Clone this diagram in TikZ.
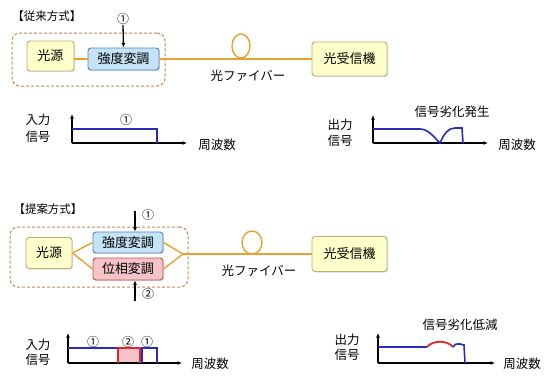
\documentclass[tikz,border=0pt]{standalone}
\usepackage{fontspec}
\newfontfamily\jp{Noto Sans CJK JP}
\usetikzlibrary{arrows.meta,shadows}
\definecolor{fib}{HTML}{E8A030}
\definecolor{dashcol}{HTML}{C08850}
\definecolor{srcfill}{HTML}{FFFFCC}
\definecolor{srcdraw}{HTML}{B8B070}
\definecolor{bluefill}{HTML}{C5E3F6}
\definecolor{bluedraw}{HTML}{4F81BD}
\definecolor{pinkfill}{HTML}{F5C3C8}
\definecolor{pinkdraw}{HTML}{C0504D}
\definecolor{sigblue}{HTML}{2B2BB8}
\definecolor{sigred}{HTML}{E0262B}
\tikzset{
  boxtext/.style={font=\jp\fontsize{13}{15}\selectfont, inner sep=0pt, rounded corners=3pt, line width=0.9pt,
    drop shadow={shadow xshift=1pt, shadow yshift=-1.2pt, opacity=0.25}},
  srcbox/.style={boxtext, fill=srcfill, draw=srcdraw},
  modbox/.style={boxtext, fill=bluefill, draw=bluedraw},
  phabox/.style={boxtext, fill=pinkfill, draw=pinkdraw},
  groupbox/.style={draw=dashcol, dash pattern=on 3pt off 2pt, rounded corners=8pt, line width=1pt, inner sep=0pt},
  lab/.style={font=\jp\fontsize{12.5}{14}\selectfont, inner sep=0pt},
  ttl/.style={font=\jp\fontsize{11.5}{13}\selectfont, inner sep=0pt},
  num/.style={font=\jp\fontsize{12}{13}\selectfont, inner sep=0pt},
  fibline/.style={draw=fib, line width=1.4pt},
  arr/.style={-{Latex[length=4.5pt,width=4pt]}, line width=1.3pt},
  axis/.style={-{Latex[length=4.5pt,width=4pt]}, line width=1.3pt},
  sigb/.style={draw=sigblue, line width=1.6pt},
  sigr/.style={draw=sigred, line width=1.8pt}
}
\begin{document}
\begin{tikzpicture}[x=1pt,y=-1pt]
\useasboundingbox (0,0) rectangle (550,378);
\fill[white] (0,0) rectangle (550,378);

% ===== upper: conventional =====
\node[ttl] (t1) at (47,16) {【従来方式】};
\node[groupbox, minimum width=153pt, minimum height=53pt] (g1) at (88.5,59.5) {};
\node[srcbox, minimum width=47pt, minimum height=30pt] (src1) at (50.5,56) {光源};
\node[modbox, minimum width=71pt, minimum height=22pt] (mod1) at (123.5,59) {強度変調};
\node[srcbox, minimum width=75pt, minimum height=34pt] (rx1) at (349.5,59) {光受信機};
\node[num] (n1) at (123,19) {①};
\draw[arr] (n1.south) -- (mod1.north);
\draw[fibline] (src1.east |- mod1.west) -- (mod1.west);
\draw[fibline] (mod1.east) -- (rx1.west);
\draw[fibline] (241,46) ellipse [x radius=9, y radius=12];
\node[lab] (f1) at (248,76) {光ファイバー};

% chart 1
\coordinate (o1) at (72,143);
\draw[axis] (o1) -- (72,114);
\draw[axis] (o1) -- (187,143);
\draw[sigb] (72,129) -- (157,129) -- (157,143);
\node[num] (c1n) at (126,120) {①};
\node[lab] (c1a) at (38,120) {入力};
\node[lab] (c1b) at (38,137) {信号};
\node[lab] (c1x) at (217,145) {周波数};

% chart 2
\coordinate (o2) at (373,143);
\draw[axis] (o2) -- (373,115);
\draw[axis] (o2) -- (488,143);
\draw[sigb] (373,129) -- (420,129) .. controls (428,129) and (434,137) .. (440,143)
  .. controls (444,134) and (448,128) .. (455,128) -- (462,128) -- (463,143);
\node[lab] (c2t) at (452,112) {信号劣化発生};
\node[lab] (c2a) at (340,125) {出力};
\node[lab] (c2b) at (340,141) {信号};
\node[lab] (c2x) at (517,145) {周波数};

% ===== lower: proposed =====
\node[ttl] (t2) at (48,209) {【提案方式】};
\node[groupbox, minimum width=178pt, minimum height=60pt] (g2) at (99,257) {};
\node[srcbox, minimum width=46pt, minimum height=31pt] (src2) at (49,253) {光源};
\node[modbox, minimum width=70pt, minimum height=21pt] (mod2) at (128,242.5) {強度変調};
\node[phabox, minimum width=70pt, minimum height=22pt] (pha2) at (128,269) {位相変調};
\node[srcbox, minimum width=75pt, minimum height=35pt] (rx2) at (349.5,254) {光受信機};
\coordinate (j2) at (183,254);
\draw[fibline] (src2.east) -- (mod2.west);
\draw[fibline] (src2.east) -- (pha2.west);
\draw[fibline] (mod2.east) -- (j2);
\draw[fibline] (pha2.east) -- (j2);
\draw[fibline] (j2) -- (rx2.west);
\draw[fibline] (252,242.5) ellipse [x radius=10, y radius=11.5];
\node[lab] (f2) at (259,271) {光ファイバー};
\node[num] (n2a) at (148,215) {①};
\coordinate (a2) at (135,211);
\draw[arr] (a2) -- (a2 |- mod2.north);
\node[num] (n2b) at (148,294) {②};
\coordinate (b2) at (135,301);
\draw[arr] (b2) -- (b2 |- pha2.south);

% chart 3
\coordinate (o3) at (68,363);
\fill[pinkfill] (118,348) rectangle (140,363);
\draw[axis] (o3) -- (68,333);
\draw[axis] (o3) -- (182,363);
\draw[sigb] (68,348) -- (118,348);
\draw[sigb] (140,348) -- (157,348) -- (157,363);
\draw[sigb] (142,348) -- (142,363);
\draw[sigr] (118,363) -- (118,348) -- (140,348) -- (140,363);
\node[num] (c3n1) at (93,342) {①};
\node[num] (c3n2) at (128,342) {②};
\node[num] (c3n3) at (147,342) {①};
\node[lab] (c3a) at (38,345) {入力};
\node[lab] (c3b) at (38,360) {信号};
\node[lab] (c3x) at (210,364) {周波数};

% chart 4
\coordinate (o4) at (378,363);
\draw[axis] (o4) -- (378,333);
\draw[axis] (o4) -- (495,363);
\draw[sigb] (378,347) -- (427,347);
\draw[sigr] (427,347) .. controls (433,340) and (447,340) .. (453,347);
\draw[sigb] (453,347) .. controls (455,344) .. (460,344) -- (464,345) -- (465,363);
\node[lab] (c4t) at (460,325) {信号劣化低減};
\node[lab] (c4a) at (347,340) {出力};
\node[lab] (c4b) at (347,355) {信号};
\node[lab] (c4x) at (522,364) {周波数};
\end{tikzpicture}
\end{document}
